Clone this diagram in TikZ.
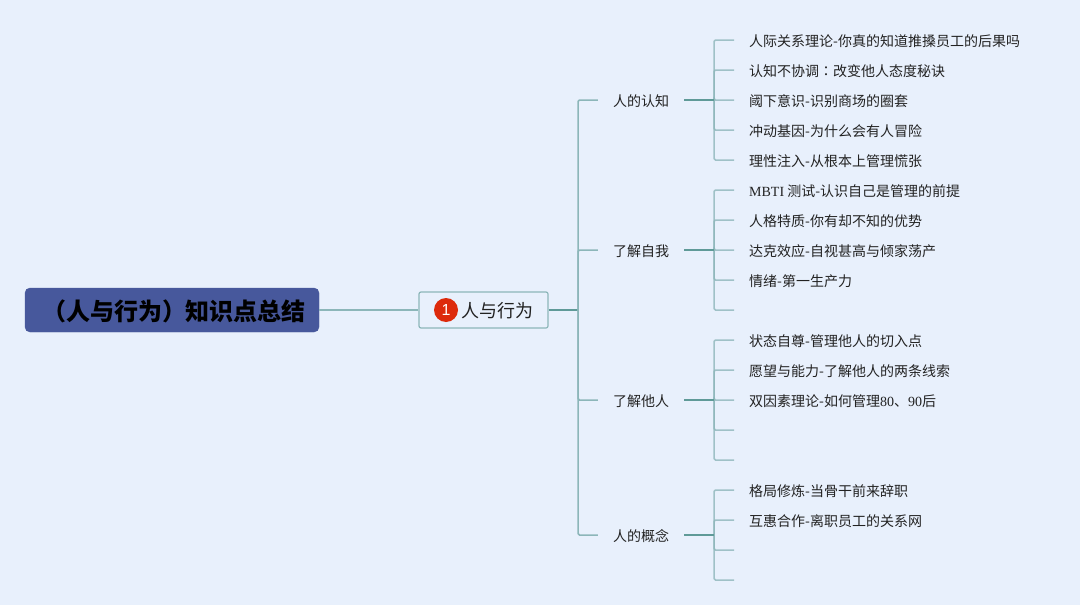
\documentclass[tikz,border=0pt]{standalone}
\usepackage{fontspec}
\setmainfont{Noto Sans CJK SC}
\newfontfamily\cjktc{Noto Sans CJK TC}
\newfontfamily\latinserif{Liberation Serif}
\newfontfamily\latinsans{Liberation Sans}
\definecolor{pagebg}{HTML}{E8F0FC}
\definecolor{rootblue}{HTML}{47589C}
\definecolor{badgered}{HTML}{DD2A0C}
\definecolor{linelight}{HTML}{8DB6BA}
\definecolor{linemid}{HTML}{8CB6B9}
\definecolor{linedark}{HTML}{5F9A98}
\definecolor{inktext}{HTML}{222222}
\begin{document}
\begin{tikzpicture}
    [
    x=1pt, y=-1pt,
    root/.style={rectangle,rounded corners=5pt,fill=rootblue,draw=rootblue,minimum width=294pt,minimum height=44pt,inner sep=0pt,font=\fontsize{24}{24}\selectfont\bfseries,text=black,text height=24pt,text depth=3pt},
    subject/.style={rectangle,rounded corners=2pt,fill=pagebg,draw=linemid,line width=1.2pt,minimum width=129pt,minimum height=36pt,inner sep=0pt},
    badge/.style={circle,fill=badgered,inner sep=0pt,minimum size=24pt,text=white,font=\fontsize{16}{16}\latinsans},
    topic/.style={inner xsep=15pt,inner ysep=0pt,font=\fontsize{14}{14}\selectfont,text=inktext,text height=14pt,text depth=2pt},
    leaf/.style={anchor=west,inner xsep=15pt,inner ysep=0pt,font=\fontsize{14}{14}\selectfont,text=inktext,text height=14pt,text depth=2pt},
    stem/.style={draw=linedark,line width=1.5pt},
    branch/.style={draw=linelight,line width=1.5pt,rounded corners=1.5pt,opacity=.8},
    bus/.style={draw=linemid,line width=1.5pt,rounded corners=1.5pt}
    ]
    \useasboundingbox [fill=pagebg] (0,0) rectangle (1080,605);
    \node (summary) at (172,310) [root] {\hspace*{4pt}（人与行为）知识点总结};
    \node (behavior) at (483.5,310) [subject] {};
    \node (behaviorlabel) at (497,311) [font=\fontsize{18}{18}\selectfont,text=inktext,inner sep=0pt] {人与行为};
    \node (mark) at (446,310) [badge] {1};
    \coordinate (mainhub) at (578,310);
    % topics
    \node (cognition) at (641,100) [topic] {人的认知};
    \node (self) at (641,250) [topic] {了解自我};
    \node (others) at (641,400) [topic] {了解他人};
    \node (concept) at (641,535) [topic] {人的概念};
    \coordinate (cognitionhub) at (714,100);
    \coordinate (selfhub) at (714,250);
    \coordinate (othershub) at (714,400);
    \coordinate (concepthub) at (714,535);
    % leaves
    \node (c1) at (734,40) [leaf] {人际关系理论-你真的知道推搡员工的后果吗};
    \node (c2) at (734,70) [leaf] {认知不协调{\cjktc ：}改变他人态度秘诀};
    \node (c3) at (734,100) [leaf] {阈下意识-识别商场的圈套};
    \node (c4) at (734,130) [leaf] {冲动基因-为什么会有人冒险};
    \node (c5) at (734,160) [leaf] {理性注入-从根本上管理慌张};
    \node (s1) at (734,190) [leaf] {{\latinserif MBTI} 测试-认识自己是管理的前提};
    \node (s2) at (734,220) [leaf] {人格特质-你有却不知的优势};
    \node (s3) at (734,250) [leaf] {达克效应-自视甚高与倾家荡产};
    \node (s4) at (734,280) [leaf] {情绪-第一生产力};
    \coordinate (s5) at (734,310);
    \node (o1) at (734,340) [leaf] {状态自尊-管理他人的切入点};
    \node (o2) at (734,370) [leaf] {愿望与能力-了解他人的两条线索};
    \node (o3) at (734,400) [leaf] {双因素理论-如何管理{\latinserif 80}、{\latinserif 90}后};
    \coordinate (o4) at (734,430);
    \coordinate (o5) at (734,460);
    \node (p1) at (734,490) [leaf] {格局修炼-当骨干前来辞职};
    \node (p2) at (734,520) [leaf] {互惠合作-离职员工的关系网};
    \coordinate (p3) at (734,550);
    \coordinate (p4) at (734,580);
    % connectors
    \draw [bus] (summary.east) to (behavior.west);
    \draw [stem] (behavior.east) to (mainhub);
    \draw [bus] (mainhub) |- (cognition.west);
    \draw [bus] (mainhub) |- (self.west);
    \draw [bus] (mainhub) |- (others.west);
    \draw [bus] (mainhub) |- (concept.west);
    \draw [branch] (cognitionhub) |- (c1.west);
    \draw [branch] (cognitionhub) |- (c2.west);
    \draw [branch] (cognitionhub) |- (c3.west);
    \draw [branch] (cognitionhub) |- (c4.west);
    \draw [branch] (cognitionhub) |- (c5.west);
    \draw [branch] (selfhub) |- (s1.west);
    \draw [branch] (selfhub) |- (s2.west);
    \draw [branch] (selfhub) |- (s3.west);
    \draw [branch] (selfhub) |- (s4.west);
    \draw [branch] (selfhub) |- (s5);
    \draw [branch] (othershub) |- (o1.west);
    \draw [branch] (othershub) |- (o2.west);
    \draw [branch] (othershub) |- (o3.west);
    \draw [branch] (othershub) |- (o4);
    \draw [branch] (othershub) |- (o5);
    \draw [branch] (concepthub) |- (p1.west);
    \draw [branch] (concepthub) |- (p2.west);
    \draw [branch] (concepthub) |- (p3);
    \draw [branch] (concepthub) |- (p4);
    \draw [stem] (cognition.east) to (cognitionhub);
    \draw [stem] (self.east) to (selfhub);
    \draw [stem] (others.east) to (othershub);
    \draw [stem] (concept.east) to (concepthub);
  \end{tikzpicture}
\end{document}
